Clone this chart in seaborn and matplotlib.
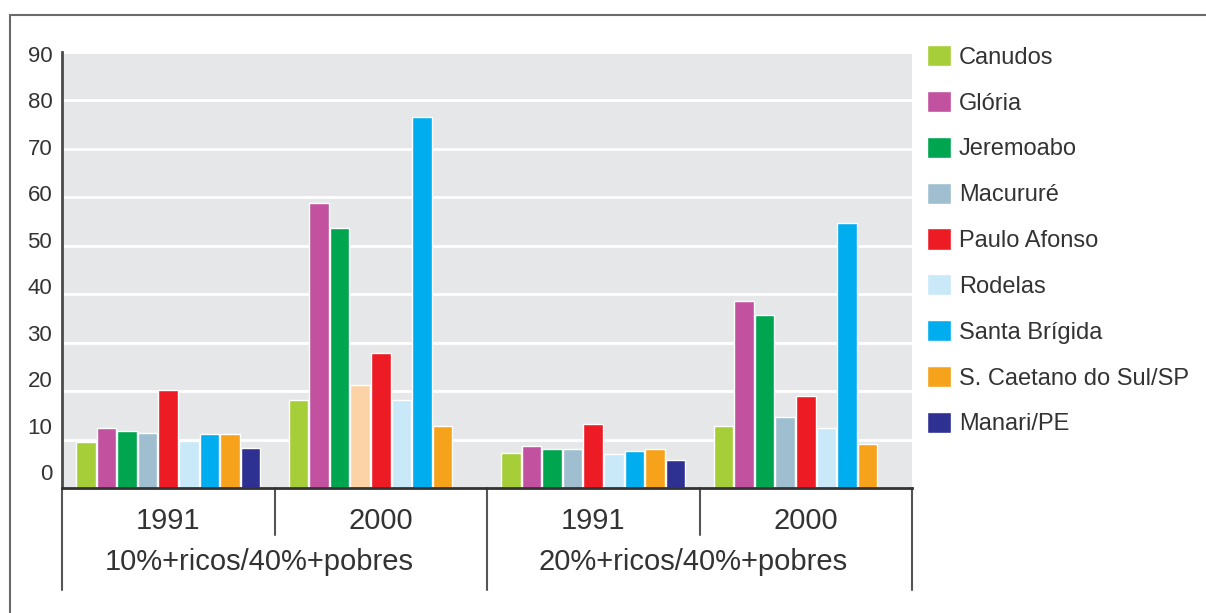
import numpy as np
import pandas as pd
import matplotlib
matplotlib.use("Agg")
import matplotlib.pyplot as plt
import seaborn as sns
from matplotlib.patches import Rectangle
from matplotlib.transforms import blended_transform_factory

# Categories
periodos = ["1991", "2000", "1991", "2000"]
razoes = ["10%+ricos/40%+pobres", "20%+ricos/40%+pobres"]
chaves = ["10-1991", "10-2000", "20-1991", "20-2000"]
municipios = ["Canudos", "Glória", "Jeremoabo", "Macururé", "Paulo Afonso",
              "Rodelas", "Santa Brígida", "S. Caetano do Sul/SP", "Manari/PE"]

# Values (one entry per x category)
canudos = [9.5, 18.1, 7.2, 12.7]
gloria = [12.3, 58.8, 8.6, 38.7]
jeremoabo = [11.8, 53.7, 8.0, 35.7]
macurure = [11.4, 21.2, 8.0, 14.7]
paulo_afonso = [20.3, 27.8, 13.3, 18.9]
rodelas = [9.7, 18.1, 7.0, 12.4]
santa_brigida = [11.1, 76.6, 7.7, 54.6]
sao_caetano = [11.1, 12.7, 8.0, 9.0]
manari = [8.2, np.nan, 5.7, np.nan]

cores = ["#a6ce39", "#c2529f", "#00a550", "#9fbfd0", "#ed1c24",
         "#c9e8f8", "#00aeef", "#f7a21b", "#2e3192"]
cor_destaque = "#fcd3a6"

series = [canudos, gloria, jeremoabo, macurure, paulo_afonso,
          rodelas, santa_brigida, sao_caetano, manari]
linhas = []
for nome, vals in zip(municipios, series):
    for chave, v in zip(chaves, vals):
        linhas.append({"chave": chave, "municipio": nome, "valor": v})
df = pd.DataFrame(linhas)

sns.set_style("white")
plt.rcParams["font.family"] = ["Liberation Sans", "DejaVu Sans"]
texto = "#333333"

fig = plt.figure(figsize=(12.06, 6.13), dpi=100)
ax = fig.add_axes([62 / 1206, 125 / 613, 850 / 1206, 436 / 613])
ax.set_facecolor("#e6e7e8")

sns.barplot(data=df, x="chave", y="valor", hue="municipio",
            order=chaves, hue_order=municipios, palette=cores,
            width=0.87, gap=0.05, errorbar=None, saturation=1, ax=ax)

# the 2000 Macururé bar in the first block is drawn in a lighter tone
for barra in ax.containers[3]:
    cx = barra.get_x() + barra.get_width() / 2
    if 0.5 < cx < 1.5:
        barra.set_facecolor(cor_destaque)

ax.set_xlim(-0.5, 3.5)
ax.set_ylim(0, 90)
ax.set_yticks(range(0, 91, 10))
ax.set_yticklabels([])
ax.grid(axis="y", color="white", lw=2)
ax.grid(axis="x", visible=False)
ax.set_axisbelow(True)
for s in ["top", "right"]:
    ax.spines[s].set_visible(False)
ax.spines["left"].set_color("#4a4a4a")
ax.spines["left"].set_linewidth(2)
ax.spines["bottom"].set_color("#333333")
ax.spines["bottom"].set_linewidth(2)
ax.set_xlabel("")
ax.set_ylabel("")
ax.set_xticks(range(4))
ax.set_xticklabels(periodos)
ax.tick_params(axis="x", length=0, labelsize=21, colors=texto, pad=14)
ax.tick_params(axis="y", length=0)

# y labels sit on their own scale, slightly above the gridlines
ax_lab = ax.twinx()
ax_lab.yaxis.tick_left()
ax_lab.set_ylim(-3.445, 90.43)
ax_lab.set_yticks(range(0, 91, 10))
ax_lab.tick_params(axis="y", length=0, labelsize=16, colors=texto, pad=7)
for s in ax_lab.spines.values():
    s.set_visible(False)
ax_lab.grid(False)

# category separators below the axis
trans = blended_transform_factory(ax.transData, ax.transAxes)
for xb, comprimento in [(-0.5, -0.234), (0.5, -0.108), (1.5, -0.234),
                        (2.5, -0.108), (3.5, -0.234)]:
    ax.plot([xb, xb], [0, comprimento], transform=trans, color="#555555",
            lw=1.5, clip_on=False)

for xc, rotulo in zip([0.43, 2.47], razoes):
    ax.text(xc, -0.17, rotulo, transform=trans, ha="center", va="center",
            fontsize=21, color=texto)

sns.move_legend(ax, "upper left", bbox_to_anchor=(927 / 1206, 1 - 45 / 613),
                bbox_transform=fig.transFigure, frameon=False, title=None,
                fontsize=17, handlelength=1.0, handleheight=1.0,
                handletextpad=0.35, labelspacing=0.94, borderpad=0,
                borderaxespad=0, labelcolor=texto)

# outer frame
fig.add_artist(Rectangle((10 / 1206, -0.05), 1.2, 1 - 15 / 613 + 0.05,
                         transform=fig.transFigure, fill=False,
                         ec="#6a6a6a", lw=1.5))

fig.savefig("out.png", dpi=100)
